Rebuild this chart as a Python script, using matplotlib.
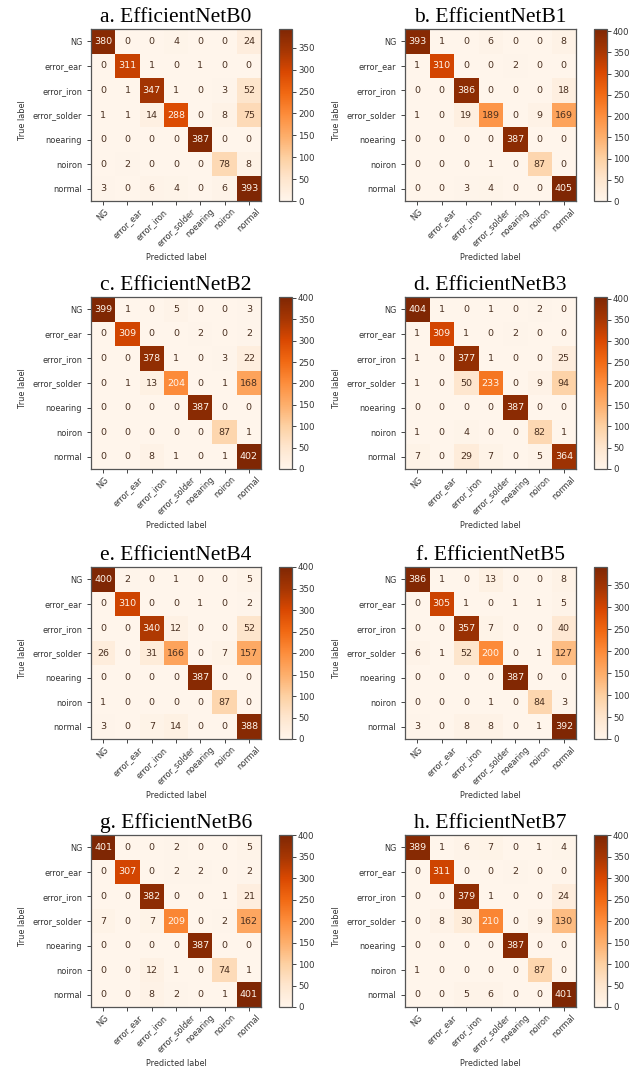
import numpy as np
import matplotlib
matplotlib.use("Agg")
import matplotlib.pyplot as plt
from matplotlib.ticker import MultipleLocator

classes = ["NG", "error_ear", "error_iron", "error_solder", "noearing", "noiron", "normal"]

titles = ["a. EfficientNetB0", "b. EfficientNetB1", "c. EfficientNetB2", "d. EfficientNetB3",
          "e. EfficientNetB4", "f. EfficientNetB5", "g. EfficientNetB6", "h. EfficientNetB7"]

cm_b0 = [[380, 0, 0, 4, 0, 0, 24],
         [0, 311, 1, 0, 1, 0, 0],
         [0, 1, 347, 1, 0, 3, 52],
         [1, 1, 14, 288, 0, 8, 75],
         [0, 0, 0, 0, 387, 0, 0],
         [0, 2, 0, 0, 0, 78, 8],
         [3, 0, 6, 4, 0, 6, 393]]

cm_b1 = [[393, 1, 0, 6, 0, 0, 8],
         [1, 310, 0, 0, 2, 0, 0],
         [0, 0, 386, 0, 0, 0, 18],
         [1, 0, 19, 189, 0, 9, 169],
         [0, 0, 0, 0, 387, 0, 0],
         [0, 0, 0, 1, 0, 87, 0],
         [0, 0, 3, 4, 0, 0, 405]]

cm_b2 = [[399, 1, 0, 5, 0, 0, 3],
         [0, 309, 0, 0, 2, 0, 2],
         [0, 0, 378, 1, 0, 3, 22],
         [0, 1, 13, 204, 0, 1, 168],
         [0, 0, 0, 0, 387, 0, 0],
         [0, 0, 0, 0, 0, 87, 1],
         [0, 0, 8, 1, 0, 1, 402]]

cm_b3 = [[404, 1, 0, 1, 0, 2, 0],
         [1, 309, 1, 0, 2, 0, 0],
         [1, 0, 377, 1, 0, 0, 25],
         [1, 0, 50, 233, 0, 9, 94],
         [0, 0, 0, 0, 387, 0, 0],
         [1, 0, 4, 0, 0, 82, 1],
         [7, 0, 29, 7, 0, 5, 364]]

cm_b4 = [[400, 2, 0, 1, 0, 0, 5],
         [0, 310, 0, 0, 1, 0, 2],
         [0, 0, 340, 12, 0, 0, 52],
         [26, 0, 31, 166, 0, 7, 157],
         [0, 0, 0, 0, 387, 0, 0],
         [1, 0, 0, 0, 0, 87, 0],
         [3, 0, 7, 14, 0, 0, 388]]

cm_b5 = [[386, 1, 0, 13, 0, 0, 8],
         [0, 305, 1, 0, 1, 1, 5],
         [0, 0, 357, 7, 0, 0, 40],
         [6, 1, 52, 200, 0, 1, 127],
         [0, 0, 0, 0, 387, 0, 0],
         [0, 0, 0, 1, 0, 84, 3],
         [3, 0, 8, 8, 0, 1, 392]]

cm_b6 = [[401, 0, 0, 2, 0, 0, 5],
         [0, 307, 0, 2, 2, 0, 2],
         [0, 0, 382, 0, 0, 1, 21],
         [7, 0, 7, 209, 0, 2, 162],
         [0, 0, 0, 0, 387, 0, 0],
         [0, 0, 12, 1, 0, 74, 1],
         [0, 0, 8, 2, 0, 1, 401]]

cm_b7 = [[389, 1, 6, 7, 0, 1, 4],
         [0, 311, 0, 0, 2, 0, 0],
         [0, 0, 379, 1, 0, 0, 24],
         [0, 8, 30, 210, 0, 9, 130],
         [0, 0, 0, 0, 387, 0, 0],
         [1, 0, 0, 0, 0, 87, 0],
         [0, 0, 5, 6, 0, 0, 401]]

matrices = [cm_b0, cm_b1, cm_b2, cm_b3, cm_b4, cm_b5, cm_b6, cm_b7]

W, H = 633, 1077
fig = plt.figure(figsize=(W / 100, H / 100), dpi=100)
fig.patch.set_facecolor("white")


def rect(x0, y0, w, h):
    return [x0 / W, 1 - (y0 + h) / H, w / W, h / H]


col_ax = [(91, 170), (405, 171)]
col_cb = [(279, 13), (594, 13)]
row_top = [29, 297, 567, 835]
AH = 172

cmap = plt.get_cmap("Oranges")
lab_fs = 5.9
num_fs = 6.8
txt_col = "#333333"

for i, (cm, title) in enumerate(zip(matrices, titles)):
    r, c = divmod(i, 2)
    cm = np.array(cm)
    ax = fig.add_axes(rect(col_ax[c][0], row_top[r], col_ax[c][1], AH))
    cax = fig.add_axes(rect(col_cb[c][0], row_top[r], col_cb[c][1], AH))
    im = ax.imshow(cm, cmap=cmap, vmin=cm.min(), vmax=cm.max(), aspect="auto",
                   interpolation="nearest")
    thresh = (cm.max() + cm.min()) / 2.0
    for yi in range(cm.shape[0]):
        for xi in range(cm.shape[1]):
            v = cm[yi, xi]
            color = cmap(0.0) if v >= thresh else "#4a3020"
            ax.text(xi, yi, f"{v}", ha="center", va="center", fontsize=num_fs, color=color)
    n = len(classes)
    ax.set_xticks(range(n))
    ax.set_yticks(range(n))
    ax.set_xticklabels(classes, rotation=45, fontsize=lab_fs, color=txt_col)
    ax.set_yticklabels(classes, fontsize=lab_fs, color=txt_col)
    ax.tick_params(axis="x", length=2.8, width=0.7, pad=1.5, colors="#444444", labelcolor=txt_col)
    ax.tick_params(axis="y", length=2.8, width=0.7, pad=3.5, colors="#444444", labelcolor=txt_col)
    ax.set_xlabel("Predicted label", fontsize=lab_fs, color=txt_col)
    ax.set_ylabel("True label", fontsize=lab_fs, color=txt_col)
    ax.xaxis.set_label_coords(0.5, -0.30)
    ax.yaxis.set_label_coords(-0.375, 0.47)
    for s in ax.spines.values():
        s.set_color("#555555")
        s.set_linewidth(0.9)
    ax.set_title(title, fontsize=15.5, family="Liberation Serif", pad=5, color="black")

    cb = fig.colorbar(im, cax=cax)
    cb.ax.yaxis.set_major_locator(MultipleLocator(50))
    cb.ax.tick_params(labelsize=lab_fs + 0.3, length=2.8, width=0.7, pad=1.5,
                      colors="#444444", labelcolor=txt_col)
    cb.outline.set_edgecolor("#555555")
    cb.outline.set_linewidth(0.9)

fig.savefig("out.png", dpi=100, facecolor="white")
